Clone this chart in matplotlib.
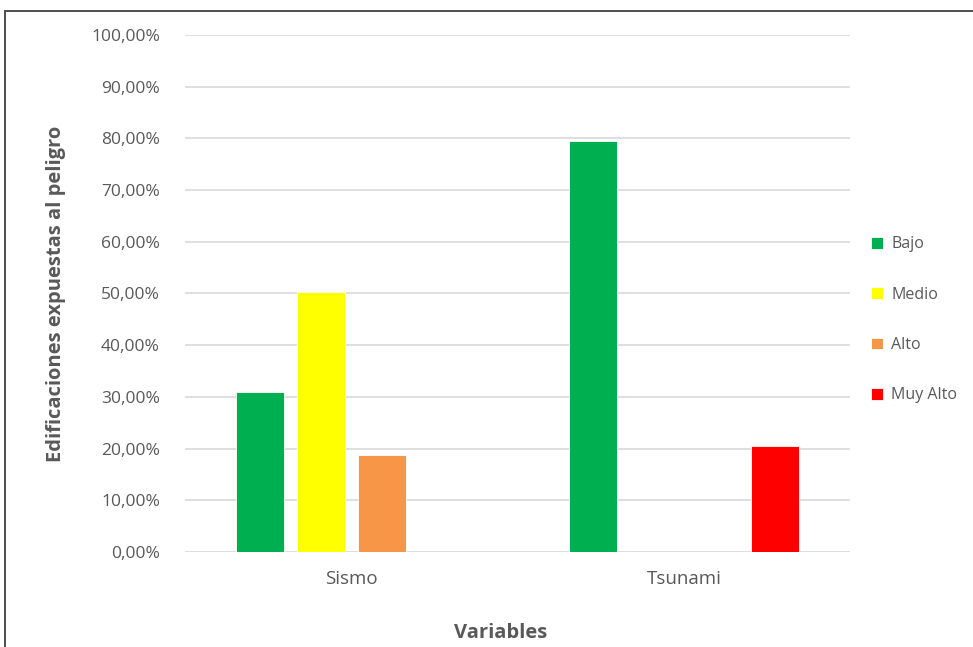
import numpy as np
import matplotlib.pyplot as plt
from matplotlib.patches import Rectangle
from matplotlib.ticker import FuncFormatter

# Datos
categorias = ['Sismo', 'Tsunami']
niveles = ['Bajo', 'Medio', 'Alto', 'Muy Alto']
colores = ['#00b050', '#ffff00', '#f79646', '#ff0000']
valores = {
    'Bajo': [30.9, 79.5],
    'Medio': [50.3, 0.0],
    'Alto': [18.7, 0.0],
    'Muy Alto': [0.0, 20.5],
}

plt.rcParams['font.family'] = ['Open Sans', 'DejaVu Sans']
gris = '#595959'

fig = plt.figure(figsize=(9.73, 6.47), dpi=100)
ax = fig.add_axes([0.190, 0.147, 0.684, 0.799])

x = np.arange(len(categorias))
paso = 0.183
ancho = 0.145
for i, nivel in enumerate(niveles):
    ax.bar(x + (i - 1.5) * paso, valores[nivel], ancho, color=colores[i],
           label=nivel, zorder=3, edgecolor='white', linewidth=0.6)

ax.set_xlim(-0.5, 1.5)
ax.set_ylim(0, 100)
ax.set_yticks(np.arange(0, 101, 10))
ax.yaxis.set_major_formatter(FuncFormatter(lambda v, p: f'{v:.2f}%'.replace('.', ',')))
ax.set_xticks(x)
ax.set_xticklabels(categorias)
ax.tick_params(axis='both', length=0, colors=gris)
ax.tick_params(axis='y', pad=18, labelsize=12.5)
ax.tick_params(axis='x', pad=13, labelsize=13.5)
ax.grid(axis='y', color='#d9d9d9', linewidth=1.2, zorder=0)
for s in ax.spines.values():
    s.set_visible(False)

ax.set_ylabel('Edificaciones expuestas al peligro', fontsize=14.5, fontweight='bold',
              color=gris, labelpad=18)
ax.set_xlabel('Variables', fontsize=14.5, fontweight='bold', color=gris)
ax.xaxis.set_label_coords(0.475, -0.138)

leg = ax.legend(loc='center left', bbox_to_anchor=(1.01, 0.449), frameon=False,
                fontsize=11.5, handlelength=0.75, handleheight=0.75,
                handletextpad=0.5, labelspacing=2.15)
for t in leg.get_texts():
    t.set_color(gris)

# Borde del grafico
fig.patches.append(Rectangle((5 / 973, -0.05), 1.2, 1 - 11 / 647 + 0.05,
                             transform=fig.transFigure, fill=False,
                             edgecolor='#404040', linewidth=1.3, clip_on=False))

fig.savefig('out.png', dpi=100)
